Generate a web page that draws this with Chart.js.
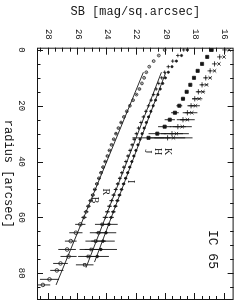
<!DOCTYPE html>
<html lang="en">
<head>
<meta charset="UTF-8">
<title>IC 65 surface brightness profiles</title>
<script src="https://cdn.jsdelivr.net/npm/chart.js@4"></script>
<style>
  html, body { margin: 0; padding: 0; background: #fff; overflow: hidden; }
  body { width: 247px; height: 308px; position: relative; }
  /* the figure is printed sideways: draw it landscape, then turn it */
  #turn {
    position: absolute; left: 0; top: 0;
    width: 308px; height: 247px;
    transform-origin: 0 0;
    transform: translate(247px, 0) rotate(90deg);
  }
</style>
</head>
<body>
<div id="turn"><canvas id="sb" width="308" height="247"></canvas></div>
<script>
// optical profiles (B, R, I), inner part
const optRadius = [0,2,4,6,8,10,12,14,16,18,20,22,24,26,28,30,32,34,36,38,40,42,44,46,48,50,52,54,56,58,60];
const bMag = [20.10,20.50,20.85,21.15,21.35,21.50,21.65,21.82,22.02,22.25,22.47,22.68,22.88,23.07,23.25,23.42,23.57,23.72,23.86,24.00,24.15,24.30,24.44,24.58,24.72,24.86,25.00,25.15,25.30,25.45,25.60];
const rMag = [18.80,19.20,19.55,19.85,20.10,20.30,20.50,20.68,20.85,21.02,21.20,21.38,21.55,21.72,21.88,22.03,22.18,22.32,22.46,22.60,22.74,22.88,23.02,23.16,23.30,23.44,23.58,23.72,23.86,24.00,24.14];
const iMag = [18.55,18.95,19.30,19.60,19.85,20.05,20.23,20.40,20.56,20.72,20.88,21.04,21.20,21.35,21.50,21.64,21.78,21.92,22.06,22.20,22.34,22.48,22.62,22.76,22.90,23.04,23.18,23.32,23.46,23.60,23.74];
const optErr = [0.02,0.02,0.02,0.02,0.03,0.03,0.03,0.04,0.04,0.04,0.05,0.05,0.05,0.06,0.06,0.07,0.07,0.08,0.08,0.09,0.09,0.1,0.1,0.11,0.12,0.12,0.13,0.14,0.15,0.16,0.18];

// optical profiles, outer points with error bars
const bOutRadius = [62.5,65.5,68.5,71.5,74,76.5,79,82.2,84.2];
const bOutMag    = [25.85,26.15,26.5,26.75,26.65,27.2,27.45,27.95,28.4];
const bOutErr    = [0.35,0.45,0.4,0.6,0.55,0.5,0.45,0.65,0.5];
const rOutRadius = [62.5,65.5,68.5,71.5,74,77];
const rOutMag    = [24.35,24.6,24.8,25.1,25.3,25.55];
const rOutErr    = [0.5,0.6,0.7,0.8,0.7,0.6];
const iOutRadius = [62.5,65.5,68.5,71.5,74];
const iOutMag    = [23.9,24.1,24.3,24.45,24.7];
const iOutErr    = [0.6,0.7,0.8,1.1,0.8];

// disk fits
const bFitRadius = [8, 84.2];
const bFitMag    = [21.55, 27.5];
const rFitRadius = [8, 78];
const rFitMag    = [20.32, 25.46];
const iFitRadius = [8, 76];
const iFitMag    = [20.02, 24.88];

// near-infrared profiles (J, H, K)
const nirRadius = [0,2.5,5,7.5,10,12.5,15,17.5,20,22.5,25,27.5,30,31.5];
const jMag = [16.9,17.2,17.55,17.85,18.1,18.35,18.6,18.85,19.1,19.4,19.75,20.1,20.6,21.2];
const hMag = [16.0,16.35,16.7,17.0,17.3,17.55,17.8,18.05,18.3,18.55,18.85,19.2,19.6,19.9];
const kMag = [15.7,16.05,16.4,16.7,17.0,17.25,17.5,17.75,18.0,18.25,18.55,18.9,19.3,19.5];
const jErr = [0.02,0.02,0.03,0.04,0.05,0.07,0.1,0.14,0.2,0.26,0.35,0.45,0.6,1.1];
const hErr = [0.02,0.03,0.04,0.05,0.07,0.09,0.12,0.18,0.25,0.32,0.42,0.55,0.75,1.2];
const kErr = [0.03,0.04,0.05,0.07,0.09,0.12,0.16,0.22,0.3,0.38,0.5,0.65,0.85,1.3];

// axis ticks
const radiusTicks = [0,20,40,60,80];
const sbTicks = [16,18,20,22,24,26,28];

// band labels and galaxy name
const labelText   = ['K','H','J','I','R','B'];
const labelRadius = [36.4,36.4,36.4,47.2,50.8,53.8];
const labelMag    = [19.9,20.57,21.23,22.45,24.15,24.85];
const galaxyName = 'IC 65';

const ink = '#161616';
const mono = '"Liberation Mono", "DejaVu Sans Mono", monospace';

function pts(xs, ys) {
    return xs.map((x, i) => ({ x: x, y: ys[i] }));
}

function points(xs, ys, style, size, fill, errs) {
    return {
        data: pts(xs, ys),
        showLine: false,
        pointStyle: style,
        pointRadius: size,
        borderColor: ink,
        backgroundColor: fill ? ink : 'rgba(0,0,0,0)',
        borderWidth: 0.8,
        errs: errs
    };
}

function fitLine(xs, ys) {
    return {
        data: pts(xs, ys),
        showLine: true,
        pointRadius: 0,
        borderColor: ink,
        borderWidth: 0.9
    };
}

const datasets = [
    fitLine(bFitRadius, bFitMag),
    fitLine(rFitRadius, rFitMag),
    fitLine(iFitRadius, iFitMag),
    points(optRadius, bMag, 'circle', 1.4, false, optErr),
    points(optRadius, rMag, 'cross', 1.8, false, optErr),
    points(optRadius, iMag, 'circle', 1.1, true, optErr),
    points(bOutRadius, bOutMag, 'circle', 1.8, false, bOutErr),
    points(rOutRadius, rOutMag, 'rect', 1.8, false, rOutErr),
    points(iOutRadius, iOutMag, 'circle', 1.3, true, iOutErr),
    points(nirRadius, jMag, 'rect', 2.2, true, jErr),
    points(nirRadius, hMag, 'cross', 2.6, false, hErr),
    points(nirRadius, kMag, 'crossRot', 2.4, false, kErr)
];

// vertical error bars from each dataset's errs array
const errorBars = {
    id: 'errorBars',
    afterDatasetsDraw(chart) {
        const { ctx, chartArea: a, scales: { y } } = chart;
        ctx.save();
        ctx.beginPath();
        ctx.rect(a.left, a.top, a.right - a.left, a.bottom - a.top);
        ctx.clip();
        ctx.strokeStyle = ink;
        ctx.lineWidth = 0.9;
        chart.data.datasets.forEach((ds, di) => {
            if (!ds.errs) return;
            const meta = chart.getDatasetMeta(di);
            ds.data.forEach((p, i) => {
                const px = meta.data[i].x;
                ctx.beginPath();
                ctx.moveTo(px, y.getPixelForValue(p.y - ds.errs[i]));
                ctx.lineTo(px, y.getPixelForValue(p.y + ds.errs[i]));
                ctx.stroke();
            });
        });
        ctx.restore();
    }
};

// box with inward ticks on all four sides, plus the text inside the plot
const frame = {
    id: 'frame',
    afterDraw(chart) {
        const { ctx, chartArea: a, scales: { x, y } } = chart;
        ctx.save();
        ctx.strokeStyle = ink;
        ctx.lineWidth = 1;
        ctx.strokeRect(a.left + 0.5, a.top + 0.5, a.right - a.left - 1, a.bottom - a.top - 1);
        ctx.beginPath();
        for (let v = 0; v <= x.max; v += 5) {
            const px = Math.round(x.getPixelForValue(v)) + 0.5;
            const len = v % 20 === 0 ? 6 : 3.5;
            ctx.moveTo(px, a.bottom); ctx.lineTo(px, a.bottom - len);
            ctx.moveTo(px, a.top); ctx.lineTo(px, a.top + len);
        }
        for (let v = 16; v <= y.max; v += 0.5) {
            const py = Math.round(y.getPixelForValue(v)) + 0.5;
            const len = v % 2 === 0 ? 7 : 4;
            ctx.moveTo(a.left, py); ctx.lineTo(a.left + len, py);
            ctx.moveTo(a.right, py); ctx.lineTo(a.right - len, py);
        }
        ctx.stroke();

        ctx.fillStyle = ink;
        ctx.textAlign = 'center';
        ctx.textBaseline = 'middle';
        ctx.font = '10px "Liberation Serif", serif';
        labelText.forEach((t, i) => {
            ctx.fillText(t, x.getPixelForValue(labelRadius[i]), y.getPixelForValue(labelMag[i]));
        });
        ctx.textAlign = 'left';
        ctx.font = '13px ' + mono;
        ctx.fillText(galaxyName, x.getPixelForValue(64.5), y.getPixelForValue(16.85));
        ctx.restore();
    }
};

new Chart(document.getElementById('sb'), {
    type: 'scatter',
    data: { datasets: datasets },
    options: {
        responsive: false,
        animation: false,
        devicePixelRatio: 1,
        layout: { padding: { left: 0, right: 8, top: 7, bottom: 0 } },
        plugins: { legend: { display: false }, tooltip: { enabled: false } },
        scales: {
            x: {
                type: 'linear', min: -0.8, max: 89.6,
                grid: { display: false, drawTicks: false },
                border: { display: false },
                afterBuildTicks: s => { s.ticks = radiusTicks.map(v => ({ value: v })); },
                afterFit: s => { s.height = 37; },
                ticks: { padding: 10, maxRotation: 0, color: ink, font: { family: mono, size: 9 } },
                title: { display: true, text: 'radius [arcsec]', color: ink,
                         font: { family: mono, size: 12 }, padding: { top: 0, bottom: 1 } }
            },
            y: {
                type: 'linear', reverse: true, min: 15.4, max: 28.8,
                grid: { display: false, drawTicks: false },
                border: { display: false },
                afterBuildTicks: s => { s.ticks = sbTicks.map(v => ({ value: v })); },
                afterFit: s => { s.width = 47.7; },
                ticks: { padding: 8, color: ink, font: { family: mono, size: 9 } },
                title: { display: true, text: 'SB [mag/sq.arcsec]', color: ink,
                         font: { family: mono, size: 12 }, padding: { top: 5, bottom: 0 } }
            }
        }
    },
    plugins: [errorBars, frame]
});
</script>
</body>
</html>
